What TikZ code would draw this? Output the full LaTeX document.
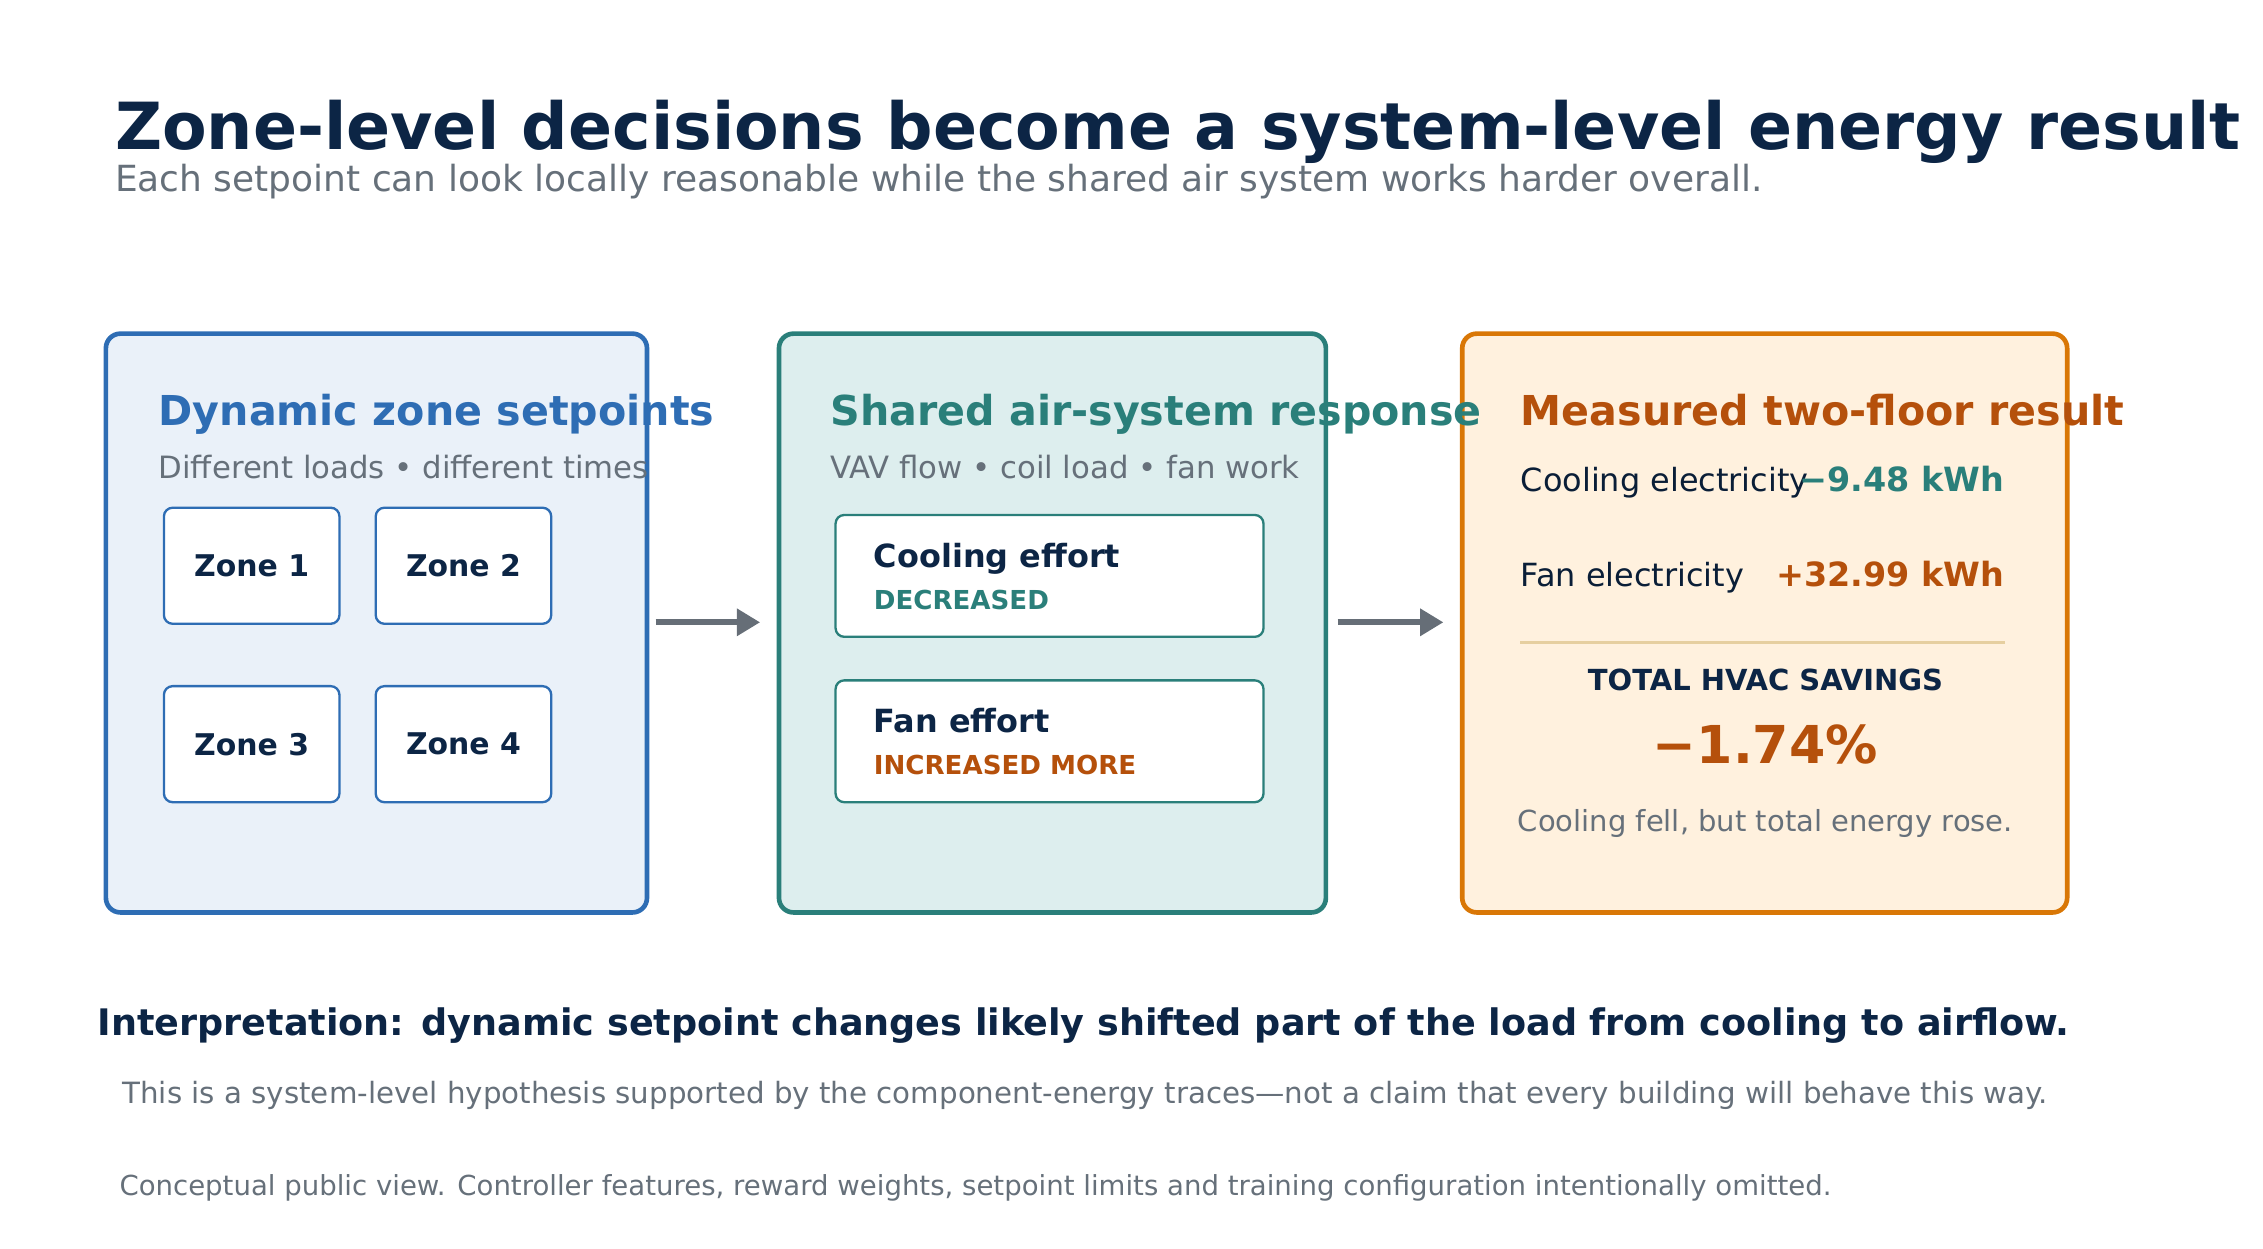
\documentclass[tikz,border=0pt]{standalone}
\usepackage{fontspec}
\setmainfont{DejaVu Sans}
\usepackage{xcolor}
\definecolor{navy}{RGB}{12,37,69}
\definecolor{greytext}{RGB}{102,112,122}
\definecolor{zoneblue}{RGB}{46,109,180}
\definecolor{zoneblue-light}{RGB}{234,241,249}
\definecolor{airteal}{RGB}{42,127,122}
\definecolor{airteal-light}{RGB}{221,238,238}
\definecolor{resorange}{RGB}{217,119,6}
\definecolor{resorange-light}{RGB}{255,241,222}
\definecolor{resbrown}{RGB}{181,80,11}
\definecolor{arrowgrey}{RGB}{102,110,119}
\definecolor{rulegold}{RGB}{230,207,160}
\usetikzlibrary{arrows.meta}
\tikzset{
  panel/.style={
    rounded corners=5pt,
    line width=1.6pt
  },
  inner-box/.style={
    draw,
    fill=white,
    rounded corners=3pt,
    line width=0.8pt
  },
  flow/.style={
    line width=2pt,
    draw=arrowgrey,
    -{Triangle[length=8pt,width=9pt]}
  },
  panel-title/.style={
    anchor=base west,
    font=\bfseries\fontsize{14.2}{17}\selectfont
  },
  panel-sub/.style={
    anchor=base west,
    text=greytext,
    font=\fontsize{10.6}{13}\selectfont
  },
  zone-label/.style={
    text=navy,
    font=\bfseries\fontsize{10.3}{12}\selectfont
  },
  every node/.style={inner sep=0pt},
}

\begin{document}
\begin{tikzpicture}[x=0.5pt,y=-0.5pt]

  \useasboundingbox (0,0) rectangle (1560,861);

  % heading
  \node[anchor=base west,text=navy,font=\bfseries\fontsize{22.4}{26}\selectfont]
    (title) at (79,103) {Zone-level decisions become a system-level energy result};
  \node[anchor=base west,text=greytext,font=\fontsize{12.4}{15}\selectfont]
    (subtitle) at (79,132) {Each setpoint can look locally reasonable while the shared air system works harder overall.};

  % panels
  \draw[panel,draw=zoneblue,fill=zoneblue-light] (73,230) rectangle (446,629);
  \draw[panel,draw=airteal,fill=airteal-light] (537,230) rectangle (914,629);
  \draw[panel,draw=resorange,fill=resorange-light] (1008,230) rectangle (1425,629);

  % zones
  \node[panel-title,text=zoneblue] (ztitle) at (109,293) {Dynamic zone setpoints};
  \node[panel-sub] (zsub) at (109,330) {Different loads • different times};
  \foreach \name/\x/\y in {1/113/350, 2/259/350, 3/113/473, 4/259/473} {
    \draw[inner-box,draw=zoneblue] (\x,\y) rectangle +(121,80);
    \node[zone-label] (zone\name) at (\x+60.5,\y+40) {Zone \name};
  }

  % air system
  \node[panel-title,text=airteal] (atitle) at (572,293) {Shared air-system response};
  \node[panel-sub] (asub) at (572,330) {VAV flow • coil load • fan work};
  \draw[inner-box,draw=airteal] (576,355) rectangle (871,439);
  \draw[inner-box,draw=airteal] (576,469) rectangle (871,553);
  \node[anchor=base west,text=navy,font=\bfseries\fontsize{11}{13}\selectfont] (cool) at (602,391) {Cooling effort};
  \node[anchor=base west,text=airteal,font=\bfseries\fontsize{9}{11}\selectfont] (coolstate) at (602,420) {DECREASED};
  \node[anchor=base west,text=navy,font=\bfseries\fontsize{11}{13}\selectfont] (fan) at (602,505) {Fan effort};
  \node[anchor=base west,text=resbrown,font=\bfseries\fontsize{9}{11}\selectfont] (fanstate) at (602,534) {INCREASED MORE};

  % result
  \node[panel-title,text=resbrown] (rtitle) at (1048,293) {Measured two-floor result};
  \node[anchor=base west,text=navy!80!black,font=\fontsize{11}{13}\selectfont] (coolel) at (1048,339) {Cooling electricity};
  \node[anchor=base east,text=airteal,font=\bfseries\fontsize{11.5}{14}\selectfont] (coolval) at (1382,339) {−9.48 kWh};
  \node[anchor=base west,text=navy!80!black,font=\fontsize{11}{13}\selectfont] (fanel) at (1048,404) {Fan electricity};
  \node[anchor=base east,text=resbrown,font=\bfseries\fontsize{11.5}{14}\selectfont] (fanval) at (1382,404) {+32.99 kWh};
  \draw[rulegold,line width=1pt] (1048,443) -- (1382,443);
  \node[anchor=base,text=navy,font=\bfseries\fontsize{10}{12}\selectfont] (total) at (1217,476) {TOTAL HVAC SAVINGS};
  \node[anchor=base,text=resbrown,font=\bfseries\fontsize{18}{21}\selectfont] (pct) at (1217,526) {−1.74\%};
  \node[anchor=base,text=greytext,font=\fontsize{10}{12}\selectfont] (note) at (1217,573) {Cooling fell, but total energy rose.};

  % flow arrows
  \coordinate (a1s) at (452,429);
  \coordinate (a1e) at (524,429);
  \coordinate (a2s) at (922,429);
  \coordinate (a2e) at (995,429);
  \draw[flow] (a1s) -- (a1e);
  \draw[flow] (a2s) -- (a2e);

  % footer
  \node[anchor=base west,text=navy,font=\bfseries\fontsize{12.6}{15}\selectfont] (interp) at (67,714) {Interpretation: dynamic setpoint changes likely shifted part of the load from cooling to airflow.};
  \node[anchor=base west,text=greytext,font=\fontsize{10.1}{12}\selectfont] (hyp) at (84,761) {This is a system-level hypothesis supported by the component-energy traces—not a claim that every building will behave this way.};
  \node[anchor=base west,text=greytext,font=\fontsize{9.5}{11}\selectfont] (disc) at (82,824) {Conceptual public view. Controller features, reward weights, setpoint limits and training configuration intentionally omitted.};

\end{tikzpicture}
\end{document}
